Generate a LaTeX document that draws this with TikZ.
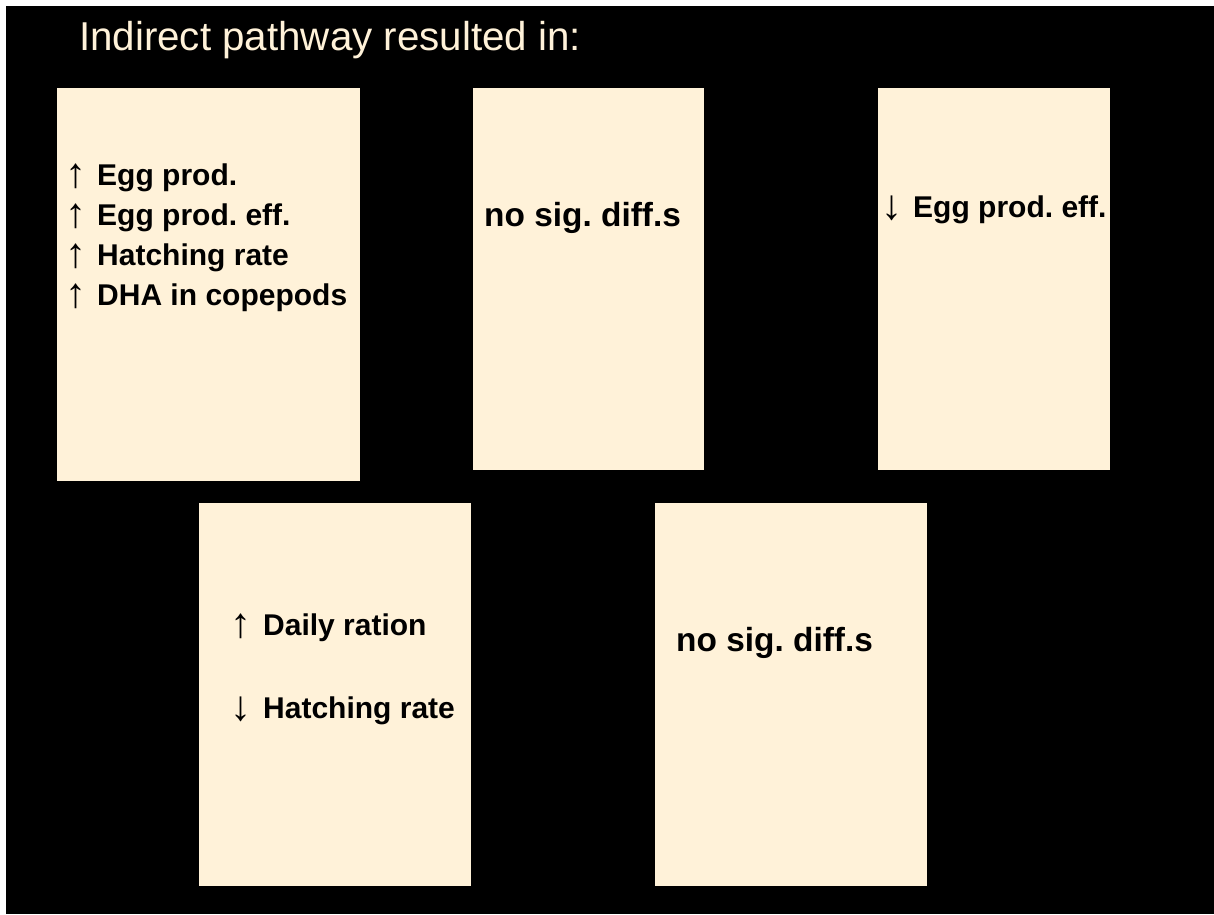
\documentclass[tikz,border=0pt]{standalone}
\usepackage{fontspec}
\setmainfont{Liberation Sans}
\newfontfamily\arrowfont{Liberation Sans}
\definecolor{cream}{HTML}{FFF2D9}
% trend arrows, drawn a little taller than the text, in a fixed-width slot
\newcommand{\trend}[2]{\makebox[#1][l]{\raisebox{-2pt}{\arrowfont\mdseries\fontsize{42}{42}\selectfont #2}}}
\begin{document}
\frenchspacing
\begin{tikzpicture}[x=1pt,y=-1pt,
  panel/.style={fill=cream,draw=none,inner sep=0pt,anchor=north west},
  entry/.style={anchor=base west,inner sep=0pt,text=black,
    font=\fontsize{30}{40}\selectfont\bfseries\frenchspacing},
  verdict/.style={entry,font=\fontsize{33.4}{40}\selectfont\bfseries\frenchspacing},
  heading/.style={anchor=base west,inner sep=0pt,text=cream,
    font=\fontsize{40.3}{44}\selectfont}]
  % page: thin white margin on the top and left, black slide
  \fill[white] (0,0) rectangle (1214,914);
  \fill[black] (6,6) rectangle (1214,914);
  \useasboundingbox (0,0) rectangle (1214,914);

  \node[heading] (title) at (79,50) {Indirect pathway resulted in:};

  % top row of panels
  \node[panel,minimum width=303pt,minimum height=393pt] (p1) at (57,88) {};
  \node[panel,minimum width=231pt,minimum height=382pt] (p2) at (473,88) {};
  \node[panel,minimum width=232pt,minimum height=382pt] (p3) at (878,88) {};
  % bottom row of panels
  \node[panel,minimum width=272pt,minimum height=383pt] (p4) at (199,503) {};
  \node[panel,minimum width=272pt,minimum height=383pt] (p5) at (655,503) {};

  % panel contents
  \node[entry] (a1) at (65,185) {\trend{32pt}{↑}Egg prod.};
  \node[entry] (a2) at (65,225) {\trend{32pt}{↑}Egg prod. eff.};
  \node[entry] (a3) at (65,265) {\trend{32pt}{↑}Hatching rate};
  \node[entry] (a4) at (65,305) {\trend{32pt}{↑}DHA in copepods};

  \node[verdict] (b1) at (484,226) {no sig. diff.s};

  \node[entry] (c1) at (881,217) {\trend{32pt}{↓}Egg prod. eff.};

  \node[entry] (d1) at (230,635) {\trend{33pt}{↑}Daily ration};
  \node[entry] (d2) at (230,718) {\trend{33pt}{↓}Hatching rate};

  \node[verdict] (e1) at (676,651) {no sig. diff.s};
\end{tikzpicture}
\end{document}
